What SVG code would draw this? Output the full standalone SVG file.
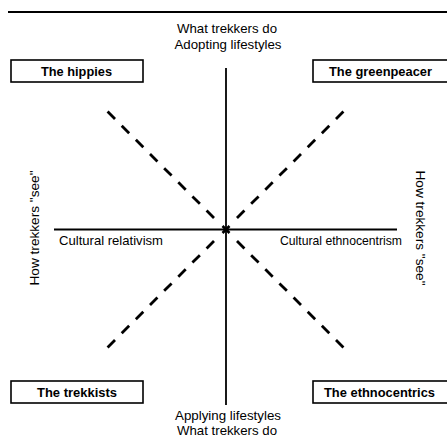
<svg xmlns="http://www.w3.org/2000/svg" width="447" height="436" viewBox="0 0 447 436">
<style>
.t{font-family:"Liberation Sans Narrow","Liberation Sans",Arial,sans-serif;font-size:13px;fill:#000;text-anchor:middle}
.b{font-weight:bold;font-size:13.5px}
.box{fill:#fff;stroke:#000;stroke-width:1.6}
.axis{stroke:#000;stroke-width:1.8;fill:none}
.dash{stroke:#000;stroke-width:2.8;stroke-dasharray:10.5 9.5;fill:none}
</style>
<rect width="447" height="436" fill="#fff"/>
<line x1="8" y1="12" x2="447" y2="12" stroke="#000" stroke-width="2"/>
<g id="connectors">
<line class="axis" x1="226" y1="68" x2="226" y2="405"/>
<line class="axis" x1="54" y1="229.5" x2="397" y2="229.5"/>
<path class="dash" d="M214 218 L103 107"/>
<path class="dash" d="M237 218 L348 107"/>
<path class="dash" d="M214 241 L103 352"/>
<path class="dash" d="M237 241 L348 352"/>
<path d="M222.5 226 L229.5 233 M229.5 226 L222.5 233" stroke="#000" stroke-width="2.6"/>
</g>
<g id="label-top">
<text class="t" x="227" y="32.5" textLength="100" lengthAdjust="spacingAndGlyphs">What trekkers do</text>
<text class="t" x="228" y="48.5" textLength="107" lengthAdjust="spacingAndGlyphs">Adopting lifestyles</text>
</g>
<g id="label-bottom">
<text class="t" x="228" y="420" textLength="106" lengthAdjust="spacingAndGlyphs">Applying lifestyles</text>
<text class="t" x="227" y="435" textLength="100" lengthAdjust="spacingAndGlyphs">What trekkers do</text>
</g>
<g id="label-left">
<text class="t" x="111" y="245" textLength="104" lengthAdjust="spacingAndGlyphs">Cultural relativism</text>
<text class="t" transform="translate(38.5 228) rotate(-90)" x="0" y="0" textLength="115" lengthAdjust="spacingAndGlyphs">How trekkers "see"</text>
</g>
<g id="label-right">
<text class="t" x="341" y="245" textLength="122" lengthAdjust="spacingAndGlyphs">Cultural ethnocentrism</text>
<text class="t" transform="translate(416 228) rotate(90)" x="0" y="0" textLength="115" lengthAdjust="spacingAndGlyphs">How trekkers "see"</text>
</g>
<g id="hippies">
<rect class="box" x="11" y="60" width="132" height="22"/>
<text class="t b" x="76.5" y="75.5" textLength="71" lengthAdjust="spacingAndGlyphs">The hippies</text>
</g>
<g id="greenpeacer">
<rect class="box" x="313" y="60" width="136" height="22"/>
<text class="t b" x="380.5" y="75.5" textLength="103" lengthAdjust="spacingAndGlyphs">The greenpeacer</text>
</g>
<g id="trekkists">
<rect class="box" x="11" y="381" width="132" height="22"/>
<text class="t b" x="77" y="396.5" textLength="80" lengthAdjust="spacingAndGlyphs">The trekkists</text>
</g>
<g id="ethnocentrics">
<rect class="box" x="313" y="381" width="136" height="22"/>
<text class="t b" x="379.5" y="396.5" textLength="111" lengthAdjust="spacingAndGlyphs">The ethnocentrics</text>
</g>
</svg>
